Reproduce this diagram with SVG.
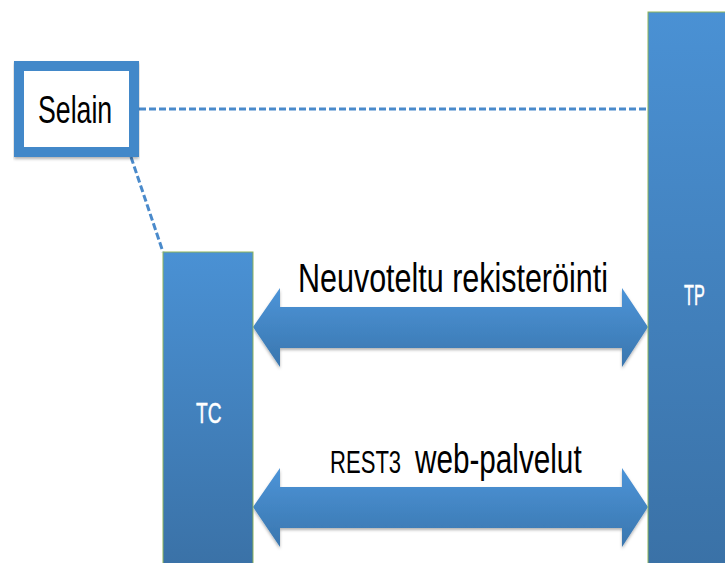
<svg xmlns="http://www.w3.org/2000/svg" width="725" height="563" viewBox="0 0 725 563">
  <style>
    .block { stroke: #8db35a; stroke-width: 1; }
    .lbl-white { font-family: "Liberation Sans", "DejaVu Sans", sans-serif; fill: #ffffff; stroke: #ffffff; stroke-width: 0.5; font-size: 29px; }
    .lbl-dark { font-family: "Liberation Sans", "DejaVu Sans", sans-serif; fill: #000000; }
    .dash { fill: none; stroke: #4a8acb; stroke-width: 3; stroke-dasharray: 7 3; }
    .arrow { fill: url(#arrowGrad); filter: url(#soft); }
  </style>
  <defs>
    <linearGradient id="blockGrad" x1="0" y1="0" x2="0" y2="1">
      <stop offset="0" stop-color="#4a91d4"/>
      <stop offset="1" stop-color="#3a71a6"/>
    </linearGradient>
    <linearGradient id="arrowGrad" x1="0" y1="0" x2="0" y2="1">
      <stop offset="0" stop-color="#4c94d8"/>
      <stop offset="1" stop-color="#3a76ae"/>
    </linearGradient>
    <filter id="soft" x="-5%" y="-20%" width="110%" height="150%">
      <feDropShadow dx="0" dy="2" stdDeviation="1.5" flood-color="#000" flood-opacity="0.3"/>
    </filter>
  </defs>

  <!-- connectors -->
  <g id="connectors">
    <line class="dash" x1="139" y1="109" x2="648" y2="109"/>
    <line class="dash" x1="131" y1="157" x2="163" y2="252"/>
    <g id="arrow-registration">
      <polygon class="arrow" points="253,327 280,288 280,307 622,307 622,288 648,327 622,367 622,348 280,348 280,367"/>
      <!-- condensed label: horizontal squeeze via transform -->
      <text class="lbl-dark" transform="matrix(0.762,0,0,1,298,292)" font-size="40">Neuvoteltu rekisteröinti</text>
    </g>
    <g id="arrow-rest">
      <polygon class="arrow" points="253,507 280,468 280,487 622,487 622,468 648,507 622,547 622,528 280,528 280,547"/>
      <text class="lbl-dark" transform="matrix(0.69,0,0,1,330,473)" font-size="32">REST3</text>
      <text class="lbl-dark" transform="matrix(0.742,0,0,1,415,473)" font-size="40">web-palvelut</text>
    </g>
  </g>

  <!-- Selain -->
  <g id="selain">
    <rect x="19" y="66" width="115" height="86" fill="#ffffff" stroke="#4288c9" stroke-width="10" filter="url(#soft)"/>
    <text class="lbl-dark" transform="matrix(0.685,0,0,1,38,123)" font-size="39">Selain</text>
  </g>

  <!-- TC -->
  <g id="tc">
    <rect class="block" x="163" y="252" width="90" height="320" fill="url(#blockGrad)"/>
    <text class="lbl-white" transform="matrix(0.66,0,0,1,196,423)">TC</text>
  </g>

  <!-- TP -->
  <g id="tp">
    <rect class="block" x="648" y="12" width="90" height="560" fill="url(#blockGrad)"/>
    <text class="lbl-white" transform="matrix(0.56,0,0,1,684,305)">TP</text>
  </g>
</svg>
